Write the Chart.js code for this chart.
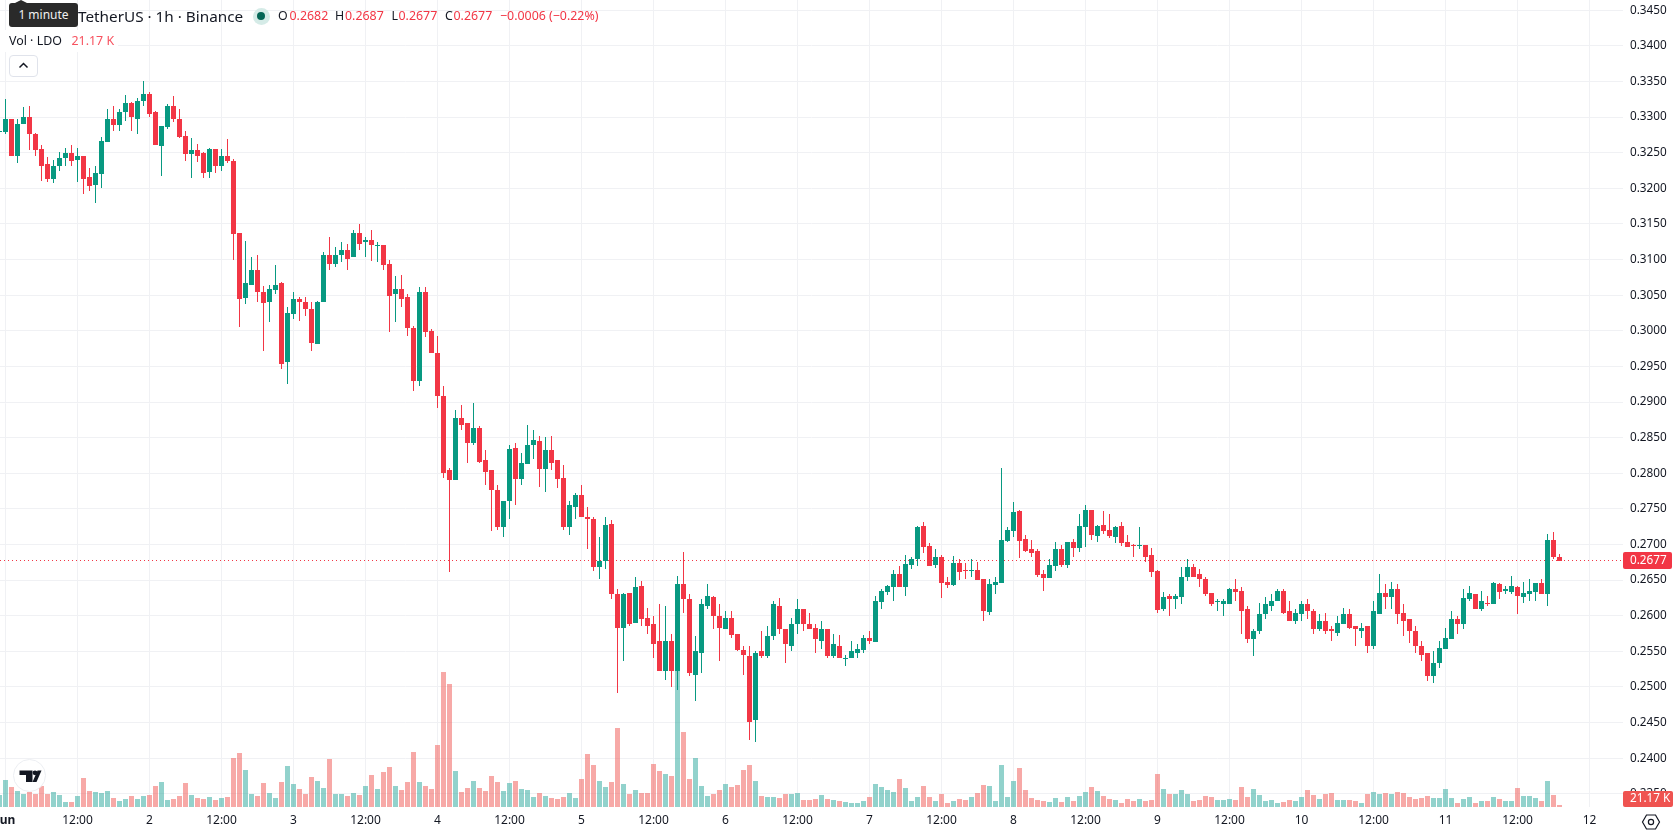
<!DOCTYPE html>
<html>
<head>
<meta charset="utf-8">
<title>LDO / TetherUS 1h</title>
<script src="https://cdn.jsdelivr.net/npm/chart.js@4"></script>
<style>
  html, body { margin: 0; padding: 0; background: #fff; overflow: hidden; }
  body { width: 1678px; height: 835px; position: relative; font-family: "Noto Sans", sans-serif; color: #131722; }
  #chart { position: absolute; left: 0; top: 0; }
  .txt { position: absolute; white-space: nowrap; line-height: 16px; }
  .red { color: #f23645; }
  #volBg { position: absolute; left: 0; top: 30px; width: 118px; height: 22px; background: #fff; }
  #tip { position: absolute; left: 9px; top: 3px; width: 69px; height: 24px; background: #2a2a2a; border-radius: 3px; color: #f0f0f0; font-size: 12px; line-height: 24px; text-align: center; }
  #tip:before { content: ""; position: absolute; left: 6px; top: -3px; border-left: 6px solid transparent; border-right: 6px solid transparent; border-bottom: 3px solid #2a2a2a; }
  #dot { position: absolute; left: 252.5px; top: 7.5px; width: 17px; height: 17px; border-radius: 50%; background: #d5ebe7; }
  #dot:after { content: ""; position: absolute; left: 4.5px; top: 4.5px; width: 8px; height: 8px; border-radius: 50%; background: #056656; }
  #collapse { position: absolute; left: 9px; top: 55px; width: 27px; height: 20px; background: #fff; border: 1px solid #e0e3eb; border-radius: 4px; }
  #logo { position: absolute; left: 13px; top: 759px; width: 31px; height: 31px; background: #fff; border: 1px solid #eceef2; border-radius: 50%; }
  #gear { position: absolute; left: 1641px; top: 812px; }
</style>
</head>
<body>
<canvas id="chart" width="1678" height="835"></canvas>

<div class="txt" style="left:78px;top:8px;font-size:15.3px;">TetherUS · 1h · Binance</div>
<div id="dot"></div>
<div class="txt" style="left:278px;top:8px;font-size:12.4px;">O</div>
<div class="txt red" style="left:289.5px;top:8px;font-size:12.4px;">0.2682</div>
<div class="txt" style="left:335px;top:8px;font-size:12.4px;">H</div>
<div class="txt red" style="left:345px;top:8px;font-size:12.4px;">0.2687</div>
<div class="txt" style="left:391.5px;top:8px;font-size:12.4px;">L</div>
<div class="txt red" style="left:398.5px;top:8px;font-size:12.4px;">0.2677</div>
<div class="txt" style="left:445px;top:8px;font-size:12.4px;">C</div>
<div class="txt red" style="left:453.5px;top:8px;font-size:12.4px;">0.2677</div>
<div class="txt red" style="left:500px;top:8px;font-size:12.4px;">−0.0006 (−0.22%)</div>

<div id="volBg"></div>
<div class="txt" style="left:9px;top:33px;font-size:12.4px;">Vol · LDO</div>
<div class="txt" style="left:71.5px;top:33px;font-size:12.4px;color:#f7525f;">21.17 K</div>

<div id="collapse">
  <svg width="27" height="20" viewBox="0 0 27 20"><path d="M9.5 11.5 L13.5 7.5 L17.5 11.5" fill="none" stroke="#131722" stroke-width="1.5"/></svg>
</div>
<div id="tip">1 minute</div>

<div id="logo">
  <svg width="31" height="31" viewBox="0 0 31 31">
    <path d="M5.5 10.5 H18.5 V22 H12 V15 H5.5 Z" fill="#131722"/>
    <circle cx="21" cy="12.8" r="2.4" fill="#131722"/>
    <path d="M23.5 10.5 H27.5 L22.5 22 H18.5 Z" fill="#131722"/>
  </svg>
</div>

<svg id="gear" width="20" height="20" viewBox="0 0 20 20">
  <path d="M5.5 3 H14.5 L18.5 10 L14.5 17 H5.5 L1.5 10 Z" fill="none" stroke="#131722" stroke-width="1.2"/>
  <circle cx="10" cy="10" r="2.6" fill="none" stroke="#131722" stroke-width="1.2"/>
</svg>

<script>
// hourly candles, first one is the last hour of 31 May
const opens = [
  0.3279,0.3279,0.3298,0.3245,0.3290,0.3300,0.3276,0.3255,0.3234,0.3213,0.3232,0.3242,0.3249,
  0.3240,0.3245,0.3216,0.3204,0.3220,0.3265,0.3298,0.3289,0.3307,0.3320,0.3298,0.3322,
  0.3332,0.3307,0.3259,0.3286,0.3315,0.3298,0.3273,0.3248,0.3254,0.3249,0.3223,0.3255,
  0.3231,0.3246,0.3239,0.3137,0.3046,0.3065,0.3086,0.3055,0.3040,0.3057,0.3067,0.2956,
  0.3023,0.3044,0.3041,0.3030,0.2982,0.3041,0.3107,0.3094,0.3106,0.3114,0.3103,0.3138,
  0.3124,0.3128,0.3120,0.3121,0.3094,0.3051,0.3059,0.3047,0.3004,0.2929,0.3055,0.3000,
  0.2969,0.2909,0.2804,0.2791,0.2878,0.2870,0.2842,0.2864,0.2818,0.2804,0.2777,0.2725,
  0.2761,0.2836,0.2792,0.2813,0.2839,0.2846,0.2806,0.2832,0.2818,0.2794,0.2724,0.2753,
  0.2769,0.2738,0.2736,0.2669,0.2677,0.2729,0.2631,0.2583,0.2632,0.2590,0.2642,0.2597,
  0.2589,0.2564,0.2522,0.2565,0.2522,0.2645,0.2624,0.2517,0.2548,0.2613,0.2627,0.2600,
  0.2582,0.2597,0.2575,0.2552,0.2544,0.2453,0.2550,0.2544,0.2571,0.2614,0.2582,0.2558,
  0.2588,0.2610,0.2589,0.2583,0.2565,0.2582,0.2544,0.2558,0.2540,0.2540,0.2548,0.2552,
  0.2569,0.2563,0.2619,0.2633,0.2640,0.2659,0.2640,0.2671,0.2680,0.2726,0.2698,0.2671,
  0.2682,0.2647,0.2643,0.2674,0.2664,0.2663,0.2664,0.2652,0.2605,0.2643,0.2646,0.2705,
  0.2719,0.2747,0.2708,0.2694,0.2691,0.2659,0.2653,0.2670,0.2694,0.2671,0.2704,0.2695,
  0.2725,0.2749,0.2712,0.2727,0.2720,0.2711,0.2726,0.2704,0.2699,0.2698,0.2699,0.2685,
  0.2663,0.2609,0.2628,0.2623,0.2627,0.2654,0.2669,0.2658,0.2652,0.2632,0.2619,0.2617,
  0.2617,0.2638,0.2635,0.2609,0.2568,0.2578,0.2602,0.2614,0.2620,0.2635,0.2607,0.2592,
  0.2603,0.2616,0.2607,0.2581,0.2593,0.2581,0.2576,0.2588,0.2603,0.2585,0.2579,0.2585,
  0.2557,0.2603,0.2632,0.2627,0.2638,0.2604,0.2595,0.2579,0.2558,0.2547,0.2516,0.2533,
  0.2554,0.2568,0.2596,0.2588,0.2624,0.2631,0.2609,0.2618,0.2617,0.2645,0.2635,0.2634,
  0.2641,0.2627,0.2631,0.2634,0.2646,0.2630,0.2707,0.2682
];
const highs = [
  0.3280,0.3325,0.3298,0.3297,0.3314,0.3315,0.3277,0.3261,0.3244,0.3240,0.3251,0.3256,0.3261,
  0.3256,0.3245,0.3228,0.3231,0.3272,0.3311,0.3315,0.3311,0.3331,0.3321,0.3327,0.3350,
  0.3335,0.3308,0.3287,0.3318,0.3329,0.3311,0.3280,0.3270,0.3262,0.3251,0.3256,0.3255,
  0.3255,0.3269,0.3241,0.3138,0.3126,0.3103,0.3107,0.3063,0.3065,0.3093,0.3068,0.3033,
  0.3055,0.3048,0.3047,0.3041,0.3042,0.3110,0.3131,0.3118,0.3124,0.3122,0.3141,0.3150,
  0.3131,0.3141,0.3124,0.3121,0.3100,0.3077,0.3079,0.3051,0.3007,0.3061,0.3061,0.3003,
  0.2993,0.2923,0.2808,0.2889,0.2896,0.2870,0.2899,0.2867,0.2832,0.2804,0.2784,0.2761,
  0.2839,0.2843,0.2829,0.2868,0.2861,0.2853,0.2851,0.2853,0.2819,0.2811,0.2761,0.2773,
  0.2783,0.2753,0.2738,0.2711,0.2738,0.2735,0.2638,0.2632,0.2632,0.2655,0.2649,0.2611,
  0.2600,0.2617,0.2614,0.2575,0.2656,0.2690,0.2631,0.2571,0.2623,0.2645,0.2628,0.2616,
  0.2607,0.2607,0.2575,0.2558,0.2558,0.2551,0.2578,0.2586,0.2621,0.2625,0.2582,0.2597,
  0.2624,0.2610,0.2604,0.2589,0.2592,0.2582,0.2575,0.2573,0.2545,0.2565,0.2561,0.2573,
  0.2579,0.2628,0.2638,0.2643,0.2664,0.2670,0.2685,0.2682,0.2726,0.2732,0.2702,0.2694,
  0.2685,0.2654,0.2684,0.2680,0.2674,0.2680,0.2675,0.2652,0.2652,0.2654,0.2807,0.2725,
  0.2760,0.2748,0.2713,0.2706,0.2694,0.2664,0.2680,0.2704,0.2699,0.2704,0.2708,0.2743,
  0.2756,0.2749,0.2727,0.2747,0.2743,0.2726,0.2732,0.2713,0.2701,0.2725,0.2699,0.2695,
  0.2664,0.2634,0.2631,0.2630,0.2668,0.2680,0.2673,0.2666,0.2654,0.2632,0.2623,0.2624,
  0.2639,0.2652,0.2641,0.2613,0.2582,0.2618,0.2627,0.2631,0.2638,0.2637,0.2621,0.2610,
  0.2620,0.2624,0.2610,0.2602,0.2604,0.2585,0.2600,0.2611,0.2609,0.2586,0.2590,0.2586,
  0.2621,0.2659,0.2645,0.2648,0.2645,0.2617,0.2596,0.2585,0.2564,0.2547,0.2550,0.2565,
  0.2583,0.2607,0.2600,0.2638,0.2642,0.2631,0.2635,0.2628,0.2648,0.2646,0.2642,0.2656,
  0.2642,0.2648,0.2652,0.2646,0.2651,0.2715,0.2718,0.2687
];
const lows = [
  0.3279,0.3276,0.3245,0.3235,0.3290,0.3254,0.3245,0.3211,0.3209,0.3207,0.3225,0.3231,0.3232,
  0.3209,0.3192,0.3196,0.3180,0.3200,0.3265,0.3280,0.3280,0.3294,0.3280,0.3276,0.3315,
  0.3300,0.3261,0.3218,0.3284,0.3293,0.3270,0.3239,0.3215,0.3237,0.3215,0.3214,0.3221,
  0.3225,0.3235,0.3100,0.3005,0.3037,0.3065,0.3040,0.2971,0.3013,0.3051,0.2946,0.2925,
  0.3016,0.3014,0.3021,0.2971,0.2982,0.3041,0.3086,0.3089,0.3096,0.3086,0.3103,0.3114,
  0.3104,0.3098,0.3096,0.3086,0.2999,0.3013,0.3034,0.2993,0.2916,0.2923,0.2992,0.2969,
  0.2891,0.2794,0.2662,0.2791,0.2861,0.2814,0.2839,0.2815,0.2783,0.2719,0.2721,0.2711,
  0.2736,0.2756,0.2784,0.2813,0.2820,0.2781,0.2774,0.2805,0.2780,0.2721,0.2714,0.2736,
  0.2738,0.2693,0.2663,0.2652,0.2666,0.2623,0.2492,0.2537,0.2585,0.2590,0.2585,0.2575,
  0.2541,0.2523,0.2510,0.2500,0.2496,0.2604,0.2516,0.2481,0.2520,0.2610,0.2582,0.2537,
  0.2582,0.2569,0.2551,0.2517,0.2426,0.2423,0.2541,0.2541,0.2566,0.2575,0.2534,0.2551,
  0.2575,0.2579,0.2581,0.2547,0.2554,0.2541,0.2540,0.2540,0.2530,0.2540,0.2541,0.2548,
  0.2561,0.2563,0.2609,0.2629,0.2621,0.2640,0.2628,0.2666,0.2670,0.2688,0.2670,0.2667,
  0.2625,0.2639,0.2642,0.2650,0.2652,0.2654,0.2650,0.2593,0.2601,0.2631,0.2646,0.2704,
  0.2711,0.2681,0.2690,0.2683,0.2654,0.2635,0.2653,0.2663,0.2668,0.2667,0.2683,0.2690,
  0.2697,0.2706,0.2704,0.2715,0.2709,0.2702,0.2698,0.2697,0.2683,0.2694,0.2675,0.2654,
  0.2604,0.2607,0.2600,0.2610,0.2617,0.2649,0.2655,0.2641,0.2628,0.2613,0.2607,0.2600,
  0.2617,0.2621,0.2575,0.2562,0.2544,0.2575,0.2596,0.2607,0.2620,0.2603,0.2592,0.2589,
  0.2593,0.2596,0.2575,0.2579,0.2575,0.2565,0.2571,0.2588,0.2582,0.2557,0.2569,0.2548,
  0.2554,0.2602,0.2610,0.2609,0.2588,0.2571,0.2562,0.2547,0.2537,0.2509,0.2506,0.2526,
  0.2554,0.2568,0.2575,0.2581,0.2620,0.2609,0.2607,0.2613,0.2617,0.2624,0.2630,0.2631,
  0.2602,0.2618,0.2621,0.2620,0.2630,0.2614,0.2679,0.2677
];
const closes = [
  0.3280,0.3297,0.3245,0.3291,0.3300,0.3276,0.3254,0.3232,0.3213,0.3232,0.3242,0.3249,0.3238,
  0.3245,0.3213,0.3203,0.3221,0.3266,0.3298,0.3289,0.3307,0.3320,0.3300,0.3322,0.3332,
  0.3304,0.3261,0.3287,0.3315,0.3297,0.3272,0.3248,0.3254,0.3246,0.3221,0.3255,0.3232,
  0.3246,0.3238,0.3136,0.3044,0.3067,0.3086,0.3054,0.3039,0.3058,0.3065,0.2954,0.3025,
  0.3044,0.3040,0.3030,0.2983,0.3041,0.3106,0.3094,0.3107,0.3113,0.3101,0.3138,0.3122,
  0.3128,0.3120,0.3121,0.3092,0.3049,0.3059,0.3045,0.3004,0.2929,0.3055,0.2999,0.2969,
  0.2908,0.2801,0.2791,0.2877,0.2868,0.2843,0.2864,0.2816,0.2802,0.2776,0.2725,0.2761,
  0.2834,0.2792,0.2815,0.2840,0.2847,0.2806,0.2833,0.2815,0.2792,0.2725,0.2756,0.2769,
  0.2738,0.2736,0.2668,0.2677,0.2728,0.2630,0.2583,0.2631,0.2589,0.2641,0.2596,0.2586,
  0.2561,0.2523,0.2565,0.2523,0.2645,0.2623,0.2519,0.2551,0.2616,0.2628,0.2599,0.2583,
  0.2597,0.2573,0.2552,0.2545,0.2451,0.2548,0.2543,0.2572,0.2616,0.2581,0.2560,0.2589,
  0.2610,0.2588,0.2581,0.2567,0.2582,0.2544,0.2560,0.2540,0.2541,0.2551,0.2554,0.2569,
  0.2564,0.2621,0.2635,0.2642,0.2659,0.2640,0.2673,0.2680,0.2725,0.2697,0.2670,0.2682,
  0.2646,0.2643,0.2674,0.2661,0.2663,0.2664,0.2650,0.2607,0.2645,0.2647,0.2706,0.2720,
  0.2746,0.2705,0.2691,0.2688,0.2657,0.2653,0.2671,0.2694,0.2671,0.2704,0.2695,0.2726,
  0.2749,0.2713,0.2726,0.2719,0.2712,0.2725,0.2702,0.2697,0.2698,0.2699,0.2683,0.2661,
  0.2608,0.2627,0.2623,0.2628,0.2655,0.2669,0.2655,0.2651,0.2631,0.2616,0.2620,0.2621,
  0.2638,0.2634,0.2607,0.2568,0.2579,0.2603,0.2617,0.2621,0.2635,0.2604,0.2592,0.2604,
  0.2616,0.2606,0.2582,0.2592,0.2578,0.2578,0.2590,0.2603,0.2583,0.2581,0.2583,0.2557,
  0.2606,0.2632,0.2627,0.2638,0.2603,0.2592,0.2578,0.2557,0.2545,0.2516,0.2534,0.2555,
  0.2569,0.2595,0.2588,0.2625,0.2632,0.2609,0.2620,0.2617,0.2646,0.2634,0.2637,0.2642,
  0.2628,0.2632,0.2635,0.2646,0.2630,0.2707,0.2683,0.2677
];
// volume in thousands of LDO
const volumes = [
  120,270,200,160,130,150,130,210,130,150,120,50,50,
  110,290,160,150,140,160,90,60,80,110,80,110,
  120,210,250,70,80,110,240,120,90,80,100,70,
  90,100,490,540,370,130,110,240,140,90,250,410,
  230,180,130,300,260,190,480,130,130,110,140,120,
  210,320,180,350,400,210,170,250,550,250,210,180,
  620,1350,1230,360,150,190,260,190,160,310,250,160,
  240,260,180,170,100,140,110,90,80,100,140,90,
  280,530,420,260,200,250,790,230,130,170,140,140,
  430,360,330,310,1500,750,280,490,210,110,130,170,
  230,200,220,370,420,260,110,100,100,90,130,130,
  140,70,70,80,120,80,70,60,50,40,40,60,
  100,230,200,170,150,280,190,60,100,210,100,60,
  130,40,60,80,70,100,140,220,210,60,420,100,
  260,390,170,90,70,60,50,90,50,100,60,110,
  150,200,160,110,80,70,40,80,60,80,60,70,
  330,180,130,130,170,130,60,70,110,100,70,70,
  80,70,200,100,180,120,60,70,40,50,70,60,
  100,170,120,80,130,140,70,70,70,60,40,130,
  150,130,140,130,150,140,100,80,90,110,90,90,
  180,90,40,80,100,40,60,60,100,80,60,60,
  190,110,110,90,60,260,120,21.17
];
const priceTicks = [
  0.345,0.34,0.335,0.33,0.325,0.32,0.315,0.31,0.305,0.3,0.295,0.29,
  0.285,0.28,0.275,0.27,0.265,0.26,0.255,0.25,0.245,0.24,0.235
];
const timeLabels = [
  "Jun","12:00","2","12:00","3","12:00","4","12:00","5","12:00","6","12:00",
  "7","12:00","8","12:00","9","12:00","10","12:00","11","12:00","12"
];

const UP = "#089981";
const DOWN = "#f23645";
const VOL_UP = "rgba(38,166,154,0.5)";
const VOL_DOWN = "rgba(239,83,80,0.5)";
const GRID = "#f0f1f4";
const FONT = '"Noto Sans", sans-serif';

// hours since 1 June 00:00
const hours = opens.map((_, i) => i - 1);
const isUp = (i) => closes[i] >= opens[i];
const lastClose = closes[closes.length - 1];

const xMin = -0.9167;
const xMax = 269.58;

// keep candles on whole pixels so the bodies stay sharp
const snapPlugin = {
  id: "snap",
  afterDatasetUpdate(chart, args) {
    const meta = args.meta;
    if (meta.type === "bar") {
      meta.data.forEach((el) => {
        el.x = Math.floor(el.x) + 0.5;
        el.y = Math.round(el.y);
        el.base = Math.round(el.base);
        if (el.base === el.y) el.base = el.y + 1;
      });
    } else {
      meta.data.forEach((el) => {
        el.y = Math.floor(el.y) + 0.5;
      });
    }
  }
};

// price and volume tags on the right axis
const tagsPlugin = {
  id: "tags",
  afterDraw(chart) {
    const ctx = chart.ctx;
    const area = chart.chartArea;
    const y = Math.floor(chart.scales.y.getPixelForValue(lastClose)) + 0.5;
    ctx.save();
    ctx.font = "11.75px " + FONT;
    ctx.textBaseline = "middle";
    ctx.fillStyle = DOWN;
    ctx.beginPath();
    ctx.roundRect(area.right, y - 8.5, 49, 17, 2);
    ctx.fill();
    ctx.fillStyle = "#fff";
    ctx.fillText(lastClose.toFixed(4), area.right + 7, y);

    ctx.fillStyle = "#ef5350";
    ctx.beginPath();
    ctx.roundRect(area.right, area.bottom - 16, 50, 16, 2);
    ctx.fill();
    ctx.fillStyle = "#fff";
    ctx.fillText("21.17 K", area.right + 7, area.bottom - 8);
    ctx.restore();
  }
};

new Chart(document.getElementById("chart"), {
  type: "bar",
  data: {
    datasets: [
      {
        label: "Vol",
        yAxisID: "yVol",
        data: hours.map((h, i) => ({ x: h, y: volumes[i] })),
        barThickness: 5,
        grouped: false,
        inflateAmount: 0,
        backgroundColor: (c) => (isUp(c.dataIndex) ? VOL_UP : VOL_DOWN),
        order: 4
      },
      {
        type: "line",
        label: "Last",
        data: [{ x: xMin, y: lastClose }, { x: xMax, y: lastClose }],
        borderColor: DOWN,
        borderWidth: 1,
        borderDash: [1, 3],
        pointRadius: 0,
        order: 3
      },
      {
        label: "Wick",
        data: hours.map((h, i) => ({ x: h, y: [lows[i], highs[i]] })),
        barThickness: 1,
        grouped: false,
        inflateAmount: 0,
        backgroundColor: (c) => (isUp(c.dataIndex) ? UP : DOWN),
        order: 2
      },
      {
        label: "Body",
        data: hours.map((h, i) => ({ x: h, y: [opens[i], closes[i]] })),
        barThickness: 5,
        grouped: false,
        inflateAmount: 0,
        backgroundColor: (c) => (isUp(c.dataIndex) ? UP : DOWN),
        order: 1
      }
    ]
  },
  plugins: [snapPlugin, tagsPlugin],
  options: {
    responsive: false,
    animation: false,
    layout: { padding: 0 },
    plugins: { legend: { display: false }, tooltip: { enabled: false } },
    scales: {
      x: {
        type: "linear",
        min: xMin,
        max: xMax,
        offset: false,
        afterBuildTicks(scale) {
          scale.ticks = timeLabels.map((_, i) => ({ value: i * 12 }));
        },
        afterFit(scale) {
          scale.height = 28;
          scale.paddingLeft = 0;
          scale.paddingRight = 0;
        },
        grid: { color: GRID, offset: false, drawTicks: false },
        border: { display: false },
        ticks: {
          autoSkip: false,
          maxRotation: 0,
          padding: 6,
          color: "#131722",
          font: (c) => ({ family: FONT, size: 12, weight: c.index === 0 ? "bold" : "normal" }),
          callback: (v, i) => timeLabels[i]
        }
      },
      y: {
        position: "right",
        min: 0.23315,
        max: 0.34644,
        afterBuildTicks(scale) {
          scale.ticks = priceTicks.map((v) => ({ value: v }));
        },
        afterFit(scale) {
          scale.width = 55;
          scale.paddingTop = 0;
          scale.paddingBottom = 0;
        },
        grid: { color: GRID, drawTicks: false },
        border: { display: false },
        ticks: {
          padding: 7,
          color: "#131722",
          font: { family: FONT, size: 11.75 },
          callback: (v) => v.toFixed(4)
        }
      },
      // 10 K per pixel of pane height
      yVol: { display: false, min: 0, max: 8070 }
    }
  }
});
</script>
</body>
</html>
